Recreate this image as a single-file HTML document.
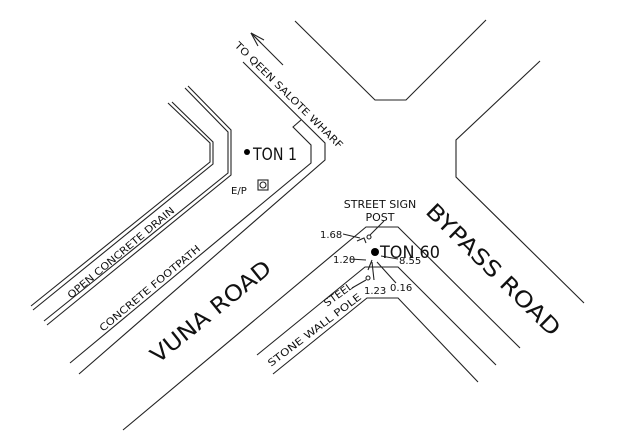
<!DOCTYPE html>
<html><head><meta charset="utf-8"><style>
html,body{margin:0;padding:0;background:#fff;}
svg{display:block;}
text{font-family:"DejaVu Sans","Liberation Sans",sans-serif;fill:#111;}
</style></head><body>
<svg width="625" height="435" viewBox="0 0 625 435" xmlns="http://www.w3.org/2000/svg">
<g fill="none" stroke="#222" stroke-width="1.1">
<!-- top road -->
<polyline points="295,21 375,100 406,100 486,20"/>
<!-- bypass right -->
<polyline points="540,61 456,140 456,177 584,303"/>
<!-- wharf outer / footpath -->
<polyline points="243,62 325,143 325,160 79,374"/>
<!-- wharf inner -->
<polyline points="301,120 293,127 311,145 311,163 70,363"/>
<!-- drain lines -->
<polyline points="168,103 210,143 210,162 31,306"/>
<polyline points="172,102 213,142 213,164 33,310"/>
<polyline points="185,88 228,132 228,173 44,321"/>
<polyline points="188,86 231,130 231,175 47,325"/>
<!-- vuna / bypass lower -->
<polyline points="123,430 366,227 398,227 520,348"/>
<polyline points="257,355 365,267 398,267 496,365"/>
<polyline points="273,374 367,298 398,298 478,382"/>
<!-- arrow -->
<line x1="283" y1="65" x2="251" y2="33"/>
<line x1="251" y1="33" x2="264" y2="40"/>
<line x1="251" y1="33" x2="258" y2="46"/>
<line x1="251" y1="33" x2="261" y2="43"/>
<!-- leaders -->
<line x1="343" y1="234" x2="360" y2="238"/>
<polyline points="357,241 364,238 366,243"/>
<line x1="350" y1="259" x2="366" y2="260"/>
<line x1="381" y1="256" x2="398" y2="259"/>
<line x1="372" y1="262" x2="374" y2="280"/>
<line x1="368" y1="270" x2="372" y2="260"/>
<line x1="377" y1="262" x2="396" y2="283"/>
<line x1="352" y1="288" x2="366" y2="280"/>
<line x1="370" y1="235" x2="384" y2="221"/>
<circle cx="369" cy="237" r="2"/>
<circle cx="368" cy="278" r="2"/>
<rect x="258" y="180" width="10" height="10"/>
<circle cx="263" cy="185" r="3"/>
</g>
<circle cx="247" cy="152" r="3" fill="#000"/>
<circle cx="375" cy="252" r="4" fill="#000"/>
<text x="253" y="160" font-size="17" textLength="44" lengthAdjust="spacingAndGlyphs">TON 1</text>
<text x="231" y="194" font-size="10">E/P</text>
<text x="380" y="208" font-size="11" text-anchor="middle">STREET SIGN</text>
<text x="380" y="221" font-size="11" text-anchor="middle">POST</text>
<text x="380" y="258" font-size="17" textLength="60" lengthAdjust="spacingAndGlyphs">TON 60</text>
<text x="320" y="238" font-size="10">1.68</text>
<text x="333" y="263" font-size="10">1.20</text>
<text x="399" y="264" font-size="10">8.55</text>
<text x="364" y="294" font-size="10">1.23</text>
<text x="390" y="291" font-size="10">0.16</text>
<text transform="translate(234,46) rotate(44.5)" font-size="10" textLength="147" lengthAdjust="spacingAndGlyphs">TO QEEN SALOTE WHARF</text>
<text transform="translate(71,299) rotate(-40)" font-size="10" textLength="136" lengthAdjust="spacingAndGlyphs">OPEN CONCRETE DRAIN</text>
<text transform="translate(103,332) rotate(-40)" font-size="10" textLength="128" lengthAdjust="spacingAndGlyphs">CONCRETE FOOTPATH</text>
<text transform="translate(158,364) rotate(-39)" font-size="22" textLength="148" lengthAdjust="spacingAndGlyphs">VUNA ROAD</text>
<text transform="translate(488,275) rotate(44.5)" font-size="22" text-anchor="middle" textLength="178" lengthAdjust="spacingAndGlyphs">BYPASS ROAD</text>
<text transform="translate(327,307) rotate(-36)" font-size="10" textLength="33" lengthAdjust="spacingAndGlyphs">STEEL</text>
<text transform="translate(271,367) rotate(-37)" font-size="10" textLength="114" lengthAdjust="spacingAndGlyphs">STONE WALL POLE</text>
</svg>
</body></html>
